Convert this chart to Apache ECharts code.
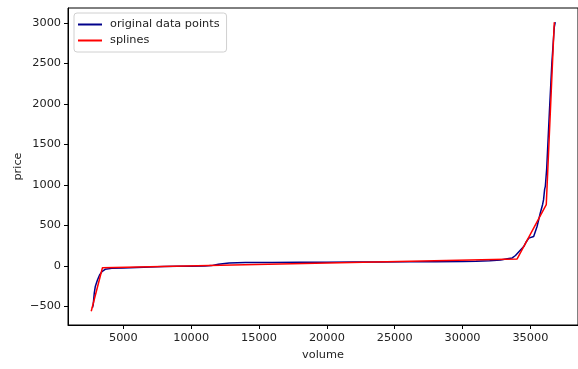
<!DOCTYPE html>
<html>
<head>
<meta charset="utf-8">
<script src="https://cdn.jsdelivr.net/npm/echarts@6/dist/echarts.min.js"></script>
<style>html,body{margin:0;padding:0;background:#fff;}#c{width:578px;height:369px;}</style>
</head>
<body>
<div id="c"></div>
<script>
// original data points
const volume = [2720, 2780, 2860, 2930, 3000, 3100, 3250, 3420, 3660, 4150, 5000, 6000, 7000, 8000, 9000, 10000, 11000, 11500, 12000, 12800, 14000, 16000, 18000, 20000, 22000, 24000, 26000, 28000, 30000, 31000, 32000, 32800, 33300, 33660, 33900, 34150, 34510, 34700, 34880, 35240, 35490, 35730, 35900, 35970, 36050, 36100, 36200, 36400, 36580, 36760, 36830];
const price = [-517, -480, -330, -257, -220, -170, -110, -70, -41, -29, -24, -18, -12, -7, -4, -2, 0, 5, 22, 38, 42, 45, 47, 48, 50, 51, 52, 54, 56, 58, 64, 75, 90, 100, 130, 177, 240, 300, 344, 364, 488, 654, 760, 819, 950, 984, 1200, 1900, 2500, 2950, 3010];
// splines
const splineVolume = [2634, 3460, 34023, 36170, 36760];
const splinePrice = [-558, -21, 87, 757, 3010];
// ticks
const xTicks = [5000, 10000, 15000, 20000, 25000, 30000, 35000];
const yTicks = [-500, 0, 500, 1000, 1500, 2000, 2500, 3000];

const chart = echarts.init(document.getElementById('c'), null, {renderer: 'canvas'});
const font = 'DejaVu Sans';
const fs = 11.3;
chart.setOption({
  animation: false,
  backgroundColor: '#fff',
  grid: {left: 68, top: 8, width: 513, height: 317, show: true, borderColor: '#000', borderWidth: 1, backgroundColor: 'transparent'},
  legend: {
    left: 74, top: 13, orient: 'vertical',
    padding: [6, 7, 6, 4], itemGap: 5,
    borderColor: '#d0d0d0', borderWidth: 1, borderRadius: 3,
    itemWidth: 24, itemHeight: 2, icon: 'rect',
    textStyle: {fontFamily: font, fontSize: fs, color: '#222', padding: [0, 0, 0, 3]},
    data: ['original data points', 'splines']
  },
  xAxis: {
    type: 'value', min: 922, max: 38508,
    name: 'volume', nameLocation: 'middle', nameGap: 25, nameMoveOverlap: false,
    nameTextStyle: {fontFamily: font, fontSize: fs, color: '#222'},
    axisLine: {show: true, onZero: false, lineStyle: {color: '#000', width: 1}},
    axisTick: {show: true, length: 4, lineStyle: {color: '#000'}, customValues: xTicks},
    axisLabel: {fontFamily: font, fontSize: fs, color: '#222', margin: 8, customValues: xTicks, formatter: v => String(v)},
    splitLine: {show: false}
  },
  yAxis: {
    type: 'value', min: -728, max: 3185,
    name: 'price', nameLocation: 'middle', nameGap: 50, nameMoveOverlap: false,
    nameTextStyle: {fontFamily: font, fontSize: fs, color: '#222', verticalAlign: 'middle'},
    axisLine: {show: true, onZero: false, lineStyle: {color: '#000', width: 1}},
    axisTick: {show: true, length: 4, lineStyle: {color: '#000'}, customValues: yTicks},
    axisLabel: {fontFamily: font, fontSize: fs, color: '#222', margin: 7, customValues: yTicks, formatter: v => String(v).replace('-', '\u2212')},
    splitLine: {show: false}
  },
  series: [
    {
      name: 'original data points', type: 'line', showSymbol: false, symbol: 'none',
      color: '#00008b', lineStyle: {width: 1.5, color: '#00008b'},
      data: volume.map((v, i) => [v, price[i]]), z: 2
    },
    {
      name: 'splines', type: 'line', showSymbol: false, symbol: 'none',
      color: '#ff0000', lineStyle: {width: 1.5, color: '#ff0000'},
      data: splineVolume.map((v, i) => [v, splinePrice[i]]), z: 3
    }
  ]
});
</script>
</body>
</html>
